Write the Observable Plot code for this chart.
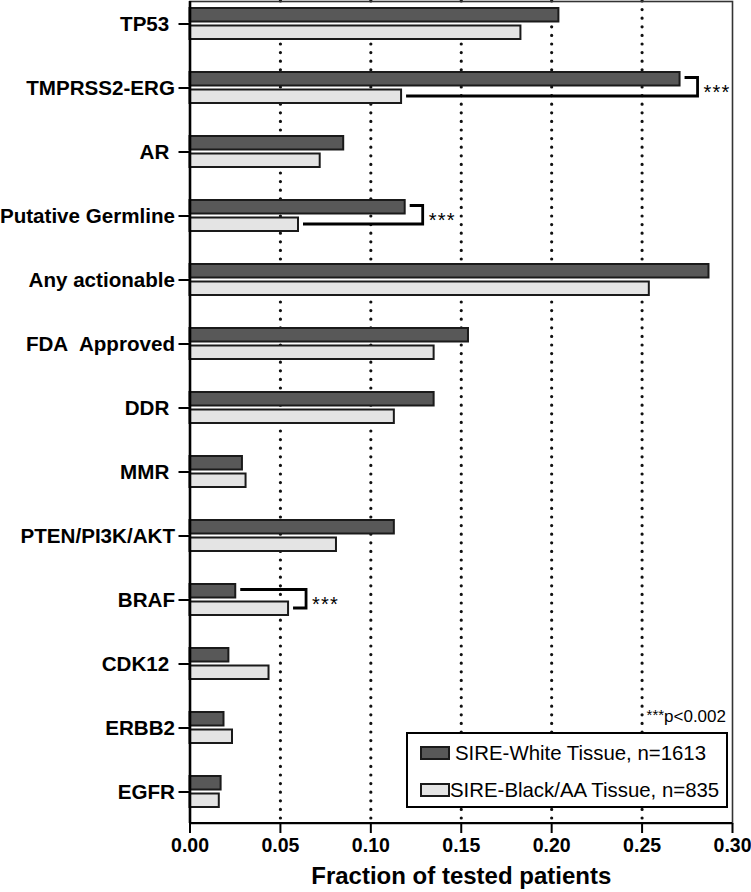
<!DOCTYPE html>
<html><head><meta charset="utf-8">
<script src="https://cdn.jsdelivr.net/npm/d3@7"></script>
<script src="https://cdn.jsdelivr.net/npm/@observablehq/plot@0.6"></script>
<style>
body{margin:0;background:#fff;}
#chart svg{display:block;}
</style></head><body><div id="chart"></div>
<script>
const categories = ["TP53","TMPRSS2-ERG","AR","Putative Germline","Any actionable","FDA  Approved","DDR","MMR","PTEN/PI3K/AKT","BRAF","CDK12","ERBB2","EGFR"];
const whiteTissue = [0.204,0.271,0.085,0.119,0.287,0.154,0.135,0.029,0.113,0.0253,0.0215,0.0188,0.0172];
const blackTissue = [0.183,0.117,0.072,0.060,0.254,0.135,0.113,0.031,0.081,0.0545,0.0437,0.0235,0.0162];
const seriesNames = ["SIRE-White Tissue, n=1613","SIRE-Black/AA Tissue, n=835"];
const seriesColors = ["#585858","#e4e4e4"];
const xTicks = [0,0.05,0.10,0.15,0.20,0.25,0.30];
const gridTicks = [0.05,0.10,0.15,0.20,0.25];
const trailingSpace = ["TP53","AR","DDR","MMR","CDK12"];
const significant = ["TMPRSS2-ERG","Putative Germline","BRAF"];
const sigLabel = "***";
const footStars = "***";
const footText = "p<0.002";
const xTitle = "Fraction of tested patients";

(function(){
const FONT = "'Liberation Sans', Arial, Helvetica, sans-serif";
const rows = categories.flatMap((c,i)=>[
  {cat:c, series:seriesNames[0], v:whiteTissue[i]},
  {cat:c, series:seriesNames[1], v:blackTissue[i]}
]);
const barInset = 17.5;

const plot = Plot.plot({
  width: 751, height: 892,
  marginTop: 1, marginBottom: 69, marginLeft: 189.5, marginRight: 19,
  style: {fontFamily: FONT, background: "white", color: "#000", overflow: "visible"},
  x: {domain: [0, 0.30]},
  y: {domain: categories, paddingInner: 0.5225, paddingOuter: 0.091, align: 0.31},
  marks: [
    Plot.ruleX(gridTicks, {stroke: "#111", strokeWidth: 3.2, strokeDasharray: "0,8.6", strokeLinecap: "round"}),
    Plot.barX(rows.filter(d => d.series === seriesNames[0]), {y: "cat", x: "v", fill: seriesColors[0], stroke: "#1a1a1a", strokeWidth: 2, insetBottom: barInset}),
    Plot.barX(rows.filter(d => d.series === seriesNames[1]), {y: "cat", x: "v", fill: seriesColors[1], stroke: "#1a1a1a", strokeWidth: 2, insetTop: barInset}),
    Plot.frame({stroke: "#333", strokeWidth: 1.6}),
    Plot.ruleX([0], {stroke: "#000", strokeWidth: 2.6}),
    Plot.axisY({tickSize: 11, tickPadding: 4, fontSize: 20.6, fontWeight: "bold", strokeWidth: 2, label: null,
      tickFormat: d => d.replace("  ", "\u00a0 ") + (trailingSpace.includes(d) ? "\u00a0" : "")}),
    Plot.axisX({ticks: xTicks, tickSize: 10, tickPadding: 5, fontSize: 19.5, fontWeight: "bold", strokeWidth: 2, label: null, tickFormat: d3.format(".2f")}),
    Plot.text([xTitle], {text: d => d, frameAnchor: "bottom", dy: 53, fontSize: 24, fontWeight: "bold", lineAnchor: "middle"})
  ]
});
document.getElementById("chart").appendChild(plot);

const svg = d3.select(plot);
svg.selectAll("text").style("font-family", FONT);
svg.selectAll('g[aria-label="y-axis tick label"] text, g[aria-label="x-axis tick label"] text').attr("font-weight", "bold");

const xs = plot.scale("x"), ys = plot.scale("y");
const X = v => xs.apply(v);
const Yc = c => ys.apply(c) + ys.bandwidth / 2;
const [xLeft, xRight] = xs.range;
const [yTop, yBottom] = ys.range;

svg.append("line").attr("x1", xLeft).attr("x2", xRight).attr("y1", yBottom).attr("y2", yBottom)
  .attr("stroke", "#000").attr("stroke-width", 2.2);

const gB = svg.append("g");
significant.forEach(c => {
  const i = categories.indexOf(c);
  const xw = X(whiteTissue[i]), xb = X(blackTissue[i]);
  const xv = Math.max(xw, xb) + 18;
  const cy = Yc(c);
  const a1 = cy - 10, a2 = cy + 8.5;
  gB.append("path")
    .attr("d", `M${xw + 5},${a1}H${xv}V${a2}H${xb + 5}`)
    .attr("fill", "none").attr("stroke", "#000").attr("stroke-width", 2.8);
  gB.append("text").attr("x", xv + 6).attr("y", cy + 11)
    .attr("text-anchor", "start").attr("font-size", 20).attr("letter-spacing", 1.2).attr("fill", "#000")
    .style("font-family", FONT).text(sigLabel);
});

const foot = svg.append("text").attr("x", xRight - 6).attr("y", yBottom - 101)
  .attr("text-anchor", "end").attr("fill", "#000").style("font-family", FONT);
foot.append("tspan").attr("font-size", 15).attr("dy", -2).text(footStars);
foot.append("tspan").attr("font-size", 17).attr("dy", 2).text(footText);

const lg = svg.append("g");
const lx = xRight - 325, ly = yBottom - 90, lw = 320, lh = 74;
lg.append("rect").attr("x", lx).attr("y", ly).attr("width", lw).attr("height", lh)
  .attr("fill", "#fff").attr("stroke", "#000").attr("stroke-width", 2);
const entryY = [20, 57];
const textX = [48, 43];
seriesNames.forEach((s, k) => {
  lg.append("rect").attr("x", lx + 14).attr("y", ly + entryY[k] - 6).attr("width", 28).attr("height", 12)
    .attr("fill", seriesColors[k]).attr("stroke", "#1a1a1a").attr("stroke-width", 2);
  lg.append("text").attr("x", lx + textX[k]).attr("y", ly + entryY[k]).attr("dy", "0.35em")
    .attr("text-anchor", "start").attr("font-size", 20.4).attr("fill", "#000").style("font-family", FONT).text(s);
});
})();
</script></body></html>
